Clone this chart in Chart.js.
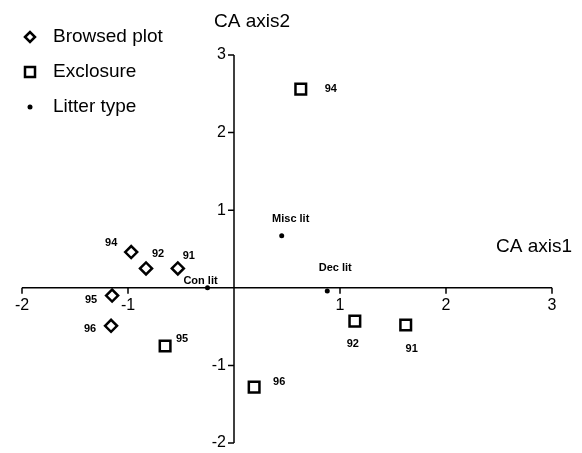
<!DOCTYPE html>
<html>
<head>
<meta charset="utf-8">
<script src="https://cdn.jsdelivr.net/npm/chart.js@4/dist/chart.umd.min.js"></script>
<style>
  body { margin: 0; background: #fff; }
  #wrap { position: relative; width: 582px; height: 453px; }
</style>
</head>
<body>
<div id="wrap"><canvas id="plot" width="582" height="453"></canvas></div>
<script>
// CA scores
var browsedX = [-0.97, -0.83, -0.53, -1.15, -1.16];
var browsedY = [0.46, 0.25, 0.25, -0.10, -0.49];
var browsedLabels = ['94', '92', '91', '95', '96'];

var exclosureX = [-0.65, 0.63, 1.14, 1.62, 0.19];
var exclosureY = [-0.75, 2.56, -0.43, -0.48, -1.28];
var exclosureLabels = ['95', '94', '92', '91', '96'];

var litterX = [0.45, 0.88, -0.25];
var litterY = [0.67, -0.04, 0.0];
var litterLabels = ['Misc lit', 'Dec lit', 'Con lit'];

var xTicks = [-2, -1, 1, 2, 3];
var yTicks = [3, 2, 1, -1, -2];

var legendItems = ['Browsed plot', 'Exclosure', 'Litter type'];

// label offsets (px) from each point
var browsedOffsets = [[-20, -9], [12, -14], [11, -12], [-21, 4], [-21, 3]];
var exclosureOffsets = [[17, -7], [30, 0], [-2, 23], [6, 24], [25, -5]];
var litterOffsets = [[9, -17], [8, -23], [-7, -7]];

function toPoints(xs, ys) {
  return xs.map(function (x, i) { return {x: x, y: ys[i]}; });
}

var FONT = '"Liberation Sans", Arial, sans-serif';

var axesPlugin = {
  id: 'axes',
  beforeDatasetsDraw: function (chart) {
    var ctx = chart.ctx;
    var xs = chart.scales.x, ys = chart.scales.y;
    var x0 = xs.getPixelForValue(0), y0 = ys.getPixelForValue(0);
    ctx.save();
    ctx.strokeStyle = '#000';
    ctx.lineWidth = 1.5;
    ctx.beginPath();
    ctx.moveTo(xs.getPixelForValue(-2), y0);
    ctx.lineTo(xs.getPixelForValue(3), y0);
    ctx.moveTo(x0, ys.getPixelForValue(3));
    ctx.lineTo(x0, ys.getPixelForValue(-2));
    xTicks.forEach(function (t) {
      var px = xs.getPixelForValue(t);
      ctx.moveTo(px, y0);
      ctx.lineTo(px, y0 + 6);
    });
    yTicks.forEach(function (t) {
      var py = ys.getPixelForValue(t);
      ctx.moveTo(x0, py);
      ctx.lineTo(x0 - 6, py);
    });
    ctx.stroke();

    ctx.fillStyle = '#000';
    ctx.font = '16px ' + FONT;
    ctx.textAlign = 'center';
    ctx.textBaseline = 'top';
    xTicks.forEach(function (t) {
      ctx.fillText(String(t), xs.getPixelForValue(t), y0 + 10);
    });
    ctx.textAlign = 'right';
    ctx.textBaseline = 'middle';
    yTicks.forEach(function (t) {
      ctx.fillText(String(t), x0 - 8, ys.getPixelForValue(t));
    });

    // axis titles
    ctx.font = '19px ' + FONT;
    ctx.textAlign = 'left';
    ctx.fillText('CA axis2', 214, 22);
    ctx.textAlign = 'right';
    ctx.fillText('CA axis1', 572, 247);
    ctx.restore();
  }
};

var labelPlugin = {
  id: 'pointLabels',
  afterDatasetsDraw: function (chart) {
    var ctx = chart.ctx;
    var sets = [
      {labels: browsedLabels, offsets: browsedOffsets},
      {labels: exclosureLabels, offsets: exclosureOffsets},
      {labels: litterLabels, offsets: litterOffsets}
    ];
    ctx.save();
    ctx.fillStyle = '#000';
    ctx.font = 'bold 11px ' + FONT;
    ctx.textAlign = 'center';
    ctx.textBaseline = 'middle';
    sets.forEach(function (s, di) {
      var meta = chart.getDatasetMeta(di);
      meta.data.forEach(function (el, i) {
        ctx.fillText(s.labels[i], el.x + s.offsets[i][0], el.y + s.offsets[i][1]);
      });
    });
    ctx.restore();
  }
};

var legendPlugin = {
  id: 'sideLegend',
  afterDraw: function (chart) {
    var ctx = chart.ctx;
    var rows = [37, 72, 107];
    ctx.save();
    ctx.strokeStyle = '#000';
    ctx.fillStyle = '#000';
    ctx.lineWidth = 2.5;
    // diamond
    ctx.beginPath();
    ctx.moveTo(25, rows[0]); ctx.lineTo(30, rows[0] - 5);
    ctx.lineTo(35, rows[0]); ctx.lineTo(30, rows[0] + 5);
    ctx.closePath(); ctx.stroke();
    // square
    ctx.strokeRect(25, rows[1] - 5, 10, 10);
    // dot
    ctx.beginPath(); ctx.arc(30, rows[2], 2.5, 0, Math.PI * 2); ctx.fill();

    ctx.font = '19px ' + FONT;
    ctx.textAlign = 'left';
    ctx.textBaseline = 'middle';
    legendItems.forEach(function (t, i) {
      ctx.fillText(t, 53, rows[i]);
    });
    ctx.restore();
  }
};

var data = {
  datasets: [
    {
      label: 'Browsed plot',
      data: toPoints(browsedX, browsedY),
      pointStyle: 'rectRot',
      pointRadius: 6,
      borderWidth: 2.5,
      borderColor: '#000',
      backgroundColor: '#fff'
    },
    {
      label: 'Exclosure',
      data: toPoints(exclosureX, exclosureY),
      pointStyle: 'rect',
      pointRadius: 7.5,
      borderWidth: 2.5,
      borderColor: '#000',
      backgroundColor: '#fff'
    },
    {
      label: 'Litter type',
      data: toPoints(litterX, litterY),
      pointStyle: 'circle',
      pointRadius: 2.5,
      borderWidth: 0,
      borderColor: '#000',
      backgroundColor: '#000'
    }
  ]
};

var config = {
  type: 'scatter',
  data: data,
  options: {
    responsive: false,
    animation: false,
    layout: { padding: { left: 22, right: 30, top: 55, bottom: 4 } },
    scales: {
      x: { type: 'linear', min: -2, max: 3, display: false },
      y: { type: 'linear', min: -2, max: 3, display: false }
    },
    plugins: {
      legend: { display: false },
      title: { display: false },
      tooltip: { enabled: false }
    }
  },
  plugins: [axesPlugin, labelPlugin, legendPlugin]
};

var chart = new Chart(document.getElementById('plot').getContext('2d'), config);
</script>
</body>
</html>
